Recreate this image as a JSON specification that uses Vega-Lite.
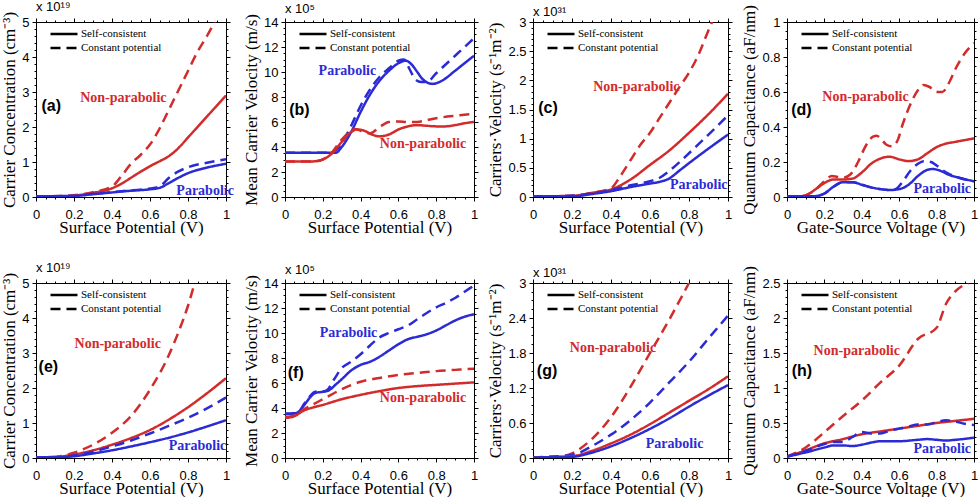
{
"$schema":"https://vega.github.io/schema/vega-lite/v6.json",
"background":"white",
"padding":{"left":0,"top":0,"right":0,"bottom":0},
"datasets":{
"curves":[
{"p":"a","m":"NP","s":"CP","x":0,"y":0.02},{"p":"a","m":"NP","s":"CP","x":0.15,"y":0.03},{"p":"a","m":"NP","s":"CP","x":0.2,"y":0.05},{"p":"a","m":"NP","s":"CP","x":0.3,"y":0.14},{"p":"a","m":"NP","s":"CP","x":0.4,"y":0.3},{"p":"a","m":"NP","s":"CP","x":0.45,"y":0.6},{"p":"a","m":"NP","s":"CP","x":0.5,"y":0.95},{"p":"a","m":"NP","s":"CP","x":0.55,"y":1.2},{"p":"a","m":"NP","s":"CP","x":0.6,"y":1.5},{"p":"a","m":"NP","s":"CP","x":0.65,"y":1.95},{"p":"a","m":"NP","s":"CP","x":0.7,"y":2.5},{"p":"a","m":"NP","s":"CP","x":0.75,"y":3.05},{"p":"a","m":"NP","s":"CP","x":0.8,"y":3.6},{"p":"a","m":"NP","s":"CP","x":0.85,"y":4.15},{"p":"a","m":"NP","s":"CP","x":0.9,"y":4.6},{"p":"a","m":"NP","s":"CP","x":0.94,"y":5.0},
{"p":"a","m":"NP","s":"SC","x":0,"y":0.02},{"p":"a","m":"NP","s":"SC","x":0.15,"y":0.02},{"p":"a","m":"NP","s":"SC","x":0.2,"y":0.04},{"p":"a","m":"NP","s":"SC","x":0.3,"y":0.12},{"p":"a","m":"NP","s":"SC","x":0.4,"y":0.25},{"p":"a","m":"NP","s":"SC","x":0.45,"y":0.38},{"p":"a","m":"NP","s":"SC","x":0.5,"y":0.55},{"p":"a","m":"NP","s":"SC","x":0.55,"y":0.72},{"p":"a","m":"NP","s":"SC","x":0.6,"y":0.88},{"p":"a","m":"NP","s":"SC","x":0.65,"y":1.02},{"p":"a","m":"NP","s":"SC","x":0.7,"y":1.17},{"p":"a","m":"NP","s":"SC","x":0.75,"y":1.4},{"p":"a","m":"NP","s":"SC","x":0.8,"y":1.7},{"p":"a","m":"NP","s":"SC","x":0.85,"y":2.0},{"p":"a","m":"NP","s":"SC","x":0.9,"y":2.3},{"p":"a","m":"NP","s":"SC","x":0.95,"y":2.6},{"p":"a","m":"NP","s":"SC","x":1,"y":2.9},
{"p":"a","m":"P","s":"CP","x":0,"y":0.02},{"p":"a","m":"P","s":"CP","x":0.2,"y":0.03},{"p":"a","m":"P","s":"CP","x":0.3,"y":0.09},{"p":"a","m":"P","s":"CP","x":0.4,"y":0.14},{"p":"a","m":"P","s":"CP","x":0.5,"y":0.19},{"p":"a","m":"P","s":"CP","x":0.6,"y":0.24},{"p":"a","m":"P","s":"CP","x":0.65,"y":0.3},{"p":"a","m":"P","s":"CP","x":0.7,"y":0.55},{"p":"a","m":"P","s":"CP","x":0.75,"y":0.73},{"p":"a","m":"P","s":"CP","x":0.8,"y":0.85},{"p":"a","m":"P","s":"CP","x":0.9,"y":0.98},{"p":"a","m":"P","s":"CP","x":1,"y":1.08},
{"p":"a","m":"P","s":"SC","x":0,"y":0.02},{"p":"a","m":"P","s":"SC","x":0.2,"y":0.03},{"p":"a","m":"P","s":"SC","x":0.3,"y":0.08},{"p":"a","m":"P","s":"SC","x":0.4,"y":0.13},{"p":"a","m":"P","s":"SC","x":0.5,"y":0.18},{"p":"a","m":"P","s":"SC","x":0.6,"y":0.22},{"p":"a","m":"P","s":"SC","x":0.65,"y":0.26},{"p":"a","m":"P","s":"SC","x":0.7,"y":0.4},{"p":"a","m":"P","s":"SC","x":0.75,"y":0.55},{"p":"a","m":"P","s":"SC","x":0.8,"y":0.68},{"p":"a","m":"P","s":"SC","x":0.9,"y":0.84},{"p":"a","m":"P","s":"SC","x":1,"y":0.95},
{"p":"b","m":"P","s":"CP","x":0,"y":3.55},{"p":"b","m":"P","s":"CP","x":0.25,"y":3.55},{"p":"b","m":"P","s":"CP","x":0.28,"y":3.9},{"p":"b","m":"P","s":"CP","x":0.3,"y":4.3},{"p":"b","m":"P","s":"CP","x":0.35,"y":5.7},{"p":"b","m":"P","s":"CP","x":0.4,"y":7.3},{"p":"b","m":"P","s":"CP","x":0.45,"y":8.6},{"p":"b","m":"P","s":"CP","x":0.5,"y":9.6},{"p":"b","m":"P","s":"CP","x":0.55,"y":10.3},{"p":"b","m":"P","s":"CP","x":0.6,"y":10.9},{"p":"b","m":"P","s":"CP","x":0.63,"y":11.0},{"p":"b","m":"P","s":"CP","x":0.66,"y":10.2},{"p":"b","m":"P","s":"CP","x":0.69,"y":9.4},{"p":"b","m":"P","s":"CP","x":0.72,"y":9.2},{"p":"b","m":"P","s":"CP","x":0.75,"y":9.2},{"p":"b","m":"P","s":"CP","x":0.8,"y":9.9},{"p":"b","m":"P","s":"CP","x":0.85,"y":10.6},{"p":"b","m":"P","s":"CP","x":0.9,"y":11.3},{"p":"b","m":"P","s":"CP","x":0.95,"y":12.0},{"p":"b","m":"P","s":"CP","x":1,"y":12.7},
{"p":"b","m":"P","s":"SC","x":0,"y":3.55},{"p":"b","m":"P","s":"SC","x":0.27,"y":3.55},{"p":"b","m":"P","s":"SC","x":0.3,"y":4.0},{"p":"b","m":"P","s":"SC","x":0.35,"y":5.2},{"p":"b","m":"P","s":"SC","x":0.4,"y":6.8},{"p":"b","m":"P","s":"SC","x":0.45,"y":8.2},{"p":"b","m":"P","s":"SC","x":0.5,"y":9.3},{"p":"b","m":"P","s":"SC","x":0.55,"y":10.1},{"p":"b","m":"P","s":"SC","x":0.6,"y":10.7},{"p":"b","m":"P","s":"SC","x":0.64,"y":10.9},{"p":"b","m":"P","s":"SC","x":0.67,"y":10.6},{"p":"b","m":"P","s":"SC","x":0.7,"y":10.0},{"p":"b","m":"P","s":"SC","x":0.73,"y":9.4},{"p":"b","m":"P","s":"SC","x":0.78,"y":9.05},{"p":"b","m":"P","s":"SC","x":0.83,"y":9.3},{"p":"b","m":"P","s":"SC","x":0.9,"y":10.1},{"p":"b","m":"P","s":"SC","x":0.95,"y":10.7},{"p":"b","m":"P","s":"SC","x":1,"y":11.3},
{"p":"b","m":"NP","s":"SC","x":0,"y":2.85},{"p":"b","m":"NP","s":"SC","x":0.15,"y":2.85},{"p":"b","m":"NP","s":"SC","x":0.2,"y":3.0},{"p":"b","m":"NP","s":"SC","x":0.25,"y":3.5},{"p":"b","m":"NP","s":"SC","x":0.3,"y":4.4},{"p":"b","m":"NP","s":"SC","x":0.35,"y":5.2},{"p":"b","m":"NP","s":"SC","x":0.38,"y":5.4},{"p":"b","m":"NP","s":"SC","x":0.42,"y":5.3},{"p":"b","m":"NP","s":"SC","x":0.46,"y":5.0},{"p":"b","m":"NP","s":"SC","x":0.5,"y":4.85},{"p":"b","m":"NP","s":"SC","x":0.55,"y":5.0},{"p":"b","m":"NP","s":"SC","x":0.6,"y":5.4},{"p":"b","m":"NP","s":"SC","x":0.65,"y":5.65},{"p":"b","m":"NP","s":"SC","x":0.7,"y":5.75},{"p":"b","m":"NP","s":"SC","x":0.75,"y":5.7},{"p":"b","m":"NP","s":"SC","x":0.8,"y":5.65},{"p":"b","m":"NP","s":"SC","x":0.85,"y":5.65},{"p":"b","m":"NP","s":"SC","x":0.9,"y":5.75},{"p":"b","m":"NP","s":"SC","x":0.95,"y":5.9},{"p":"b","m":"NP","s":"SC","x":1,"y":6.0},
{"p":"b","m":"NP","s":"CP","x":0,"y":2.85},{"p":"b","m":"NP","s":"CP","x":0.15,"y":2.85},{"p":"b","m":"NP","s":"CP","x":0.2,"y":3.0},{"p":"b","m":"NP","s":"CP","x":0.25,"y":3.6},{"p":"b","m":"NP","s":"CP","x":0.3,"y":4.6},{"p":"b","m":"NP","s":"CP","x":0.35,"y":5.3},{"p":"b","m":"NP","s":"CP","x":0.37,"y":5.45},{"p":"b","m":"NP","s":"CP","x":0.4,"y":5.3},{"p":"b","m":"NP","s":"CP","x":0.45,"y":5.1},{"p":"b","m":"NP","s":"CP","x":0.5,"y":5.6},{"p":"b","m":"NP","s":"CP","x":0.55,"y":6.0},{"p":"b","m":"NP","s":"CP","x":0.6,"y":6.05},{"p":"b","m":"NP","s":"CP","x":0.65,"y":6.0},{"p":"b","m":"NP","s":"CP","x":0.7,"y":6.0},{"p":"b","m":"NP","s":"CP","x":0.75,"y":6.15},{"p":"b","m":"NP","s":"CP","x":0.8,"y":6.3},{"p":"b","m":"NP","s":"CP","x":0.9,"y":6.5},{"p":"b","m":"NP","s":"CP","x":1,"y":6.65},
{"p":"c","m":"NP","s":"CP","x":0,"y":0.01},{"p":"c","m":"NP","s":"CP","x":0.2,"y":0.02},{"p":"c","m":"NP","s":"CP","x":0.3,"y":0.07},{"p":"c","m":"NP","s":"CP","x":0.4,"y":0.15},{"p":"c","m":"NP","s":"CP","x":0.45,"y":0.37},{"p":"c","m":"NP","s":"CP","x":0.5,"y":0.63},{"p":"c","m":"NP","s":"CP","x":0.55,"y":0.89},{"p":"c","m":"NP","s":"CP","x":0.6,"y":1.1},{"p":"c","m":"NP","s":"CP","x":0.65,"y":1.36},{"p":"c","m":"NP","s":"CP","x":0.7,"y":1.62},{"p":"c","m":"NP","s":"CP","x":0.75,"y":1.88},{"p":"c","m":"NP","s":"CP","x":0.8,"y":2.13},{"p":"c","m":"NP","s":"CP","x":0.85,"y":2.45},{"p":"c","m":"NP","s":"CP","x":0.9,"y":2.86},{"p":"c","m":"NP","s":"CP","x":0.918,"y":3.0},
{"p":"c","m":"NP","s":"SC","x":0,"y":0.01},{"p":"c","m":"NP","s":"SC","x":0.2,"y":0.02},{"p":"c","m":"NP","s":"SC","x":0.3,"y":0.07},{"p":"c","m":"NP","s":"SC","x":0.4,"y":0.13},{"p":"c","m":"NP","s":"SC","x":0.5,"y":0.3},{"p":"c","m":"NP","s":"SC","x":0.6,"y":0.55},{"p":"c","m":"NP","s":"SC","x":0.7,"y":0.8},{"p":"c","m":"NP","s":"SC","x":0.8,"y":1.1},{"p":"c","m":"NP","s":"SC","x":0.9,"y":1.42},{"p":"c","m":"NP","s":"SC","x":1,"y":1.77},
{"p":"c","m":"P","s":"CP","x":0,"y":0.01},{"p":"c","m":"P","s":"CP","x":0.2,"y":0.02},{"p":"c","m":"P","s":"CP","x":0.3,"y":0.06},{"p":"c","m":"P","s":"CP","x":0.4,"y":0.12},{"p":"c","m":"P","s":"CP","x":0.5,"y":0.2},{"p":"c","m":"P","s":"CP","x":0.6,"y":0.27},{"p":"c","m":"P","s":"CP","x":0.65,"y":0.33},{"p":"c","m":"P","s":"CP","x":0.7,"y":0.45},{"p":"c","m":"P","s":"CP","x":0.8,"y":0.75},{"p":"c","m":"P","s":"CP","x":0.9,"y":1.07},{"p":"c","m":"P","s":"CP","x":1,"y":1.4},
{"p":"c","m":"P","s":"SC","x":0,"y":0.01},{"p":"c","m":"P","s":"SC","x":0.2,"y":0.01},{"p":"c","m":"P","s":"SC","x":0.3,"y":0.05},{"p":"c","m":"P","s":"SC","x":0.4,"y":0.1},{"p":"c","m":"P","s":"SC","x":0.5,"y":0.17},{"p":"c","m":"P","s":"SC","x":0.6,"y":0.23},{"p":"c","m":"P","s":"SC","x":0.65,"y":0.26},{"p":"c","m":"P","s":"SC","x":0.7,"y":0.32},{"p":"c","m":"P","s":"SC","x":0.75,"y":0.45},{"p":"c","m":"P","s":"SC","x":0.8,"y":0.58},{"p":"c","m":"P","s":"SC","x":0.9,"y":0.83},{"p":"c","m":"P","s":"SC","x":1,"y":1.07},
{"p":"d","m":"NP","s":"CP","x":0,"y":0.005},{"p":"d","m":"NP","s":"CP","x":0.08,"y":0.005},{"p":"d","m":"NP","s":"CP","x":0.12,"y":0.02},{"p":"d","m":"NP","s":"CP","x":0.16,"y":0.05},{"p":"d","m":"NP","s":"CP","x":0.2,"y":0.09},{"p":"d","m":"NP","s":"CP","x":0.24,"y":0.12},{"p":"d","m":"NP","s":"CP","x":0.27,"y":0.115},{"p":"d","m":"NP","s":"CP","x":0.3,"y":0.11},{"p":"d","m":"NP","s":"CP","x":0.34,"y":0.13},{"p":"d","m":"NP","s":"CP","x":0.38,"y":0.2},{"p":"d","m":"NP","s":"CP","x":0.42,"y":0.29},{"p":"d","m":"NP","s":"CP","x":0.46,"y":0.345},{"p":"d","m":"NP","s":"CP","x":0.48,"y":0.35},{"p":"d","m":"NP","s":"CP","x":0.5,"y":0.335},{"p":"d","m":"NP","s":"CP","x":0.53,"y":0.3},{"p":"d","m":"NP","s":"CP","x":0.56,"y":0.29},{"p":"d","m":"NP","s":"CP","x":0.59,"y":0.32},{"p":"d","m":"NP","s":"CP","x":0.62,"y":0.42},{"p":"d","m":"NP","s":"CP","x":0.66,"y":0.53},{"p":"d","m":"NP","s":"CP","x":0.7,"y":0.61},{"p":"d","m":"NP","s":"CP","x":0.73,"y":0.64},{"p":"d","m":"NP","s":"CP","x":0.76,"y":0.63},{"p":"d","m":"NP","s":"CP","x":0.8,"y":0.6},{"p":"d","m":"NP","s":"CP","x":0.83,"y":0.6},{"p":"d","m":"NP","s":"CP","x":0.87,"y":0.66},{"p":"d","m":"NP","s":"CP","x":0.9,"y":0.73},{"p":"d","m":"NP","s":"CP","x":0.95,"y":0.82},{"p":"d","m":"NP","s":"CP","x":1,"y":0.88},
{"p":"d","m":"NP","s":"SC","x":0,"y":0.005},{"p":"d","m":"NP","s":"SC","x":0.08,"y":0.005},{"p":"d","m":"NP","s":"SC","x":0.12,"y":0.02},{"p":"d","m":"NP","s":"SC","x":0.16,"y":0.05},{"p":"d","m":"NP","s":"SC","x":0.2,"y":0.08},{"p":"d","m":"NP","s":"SC","x":0.25,"y":0.1},{"p":"d","m":"NP","s":"SC","x":0.3,"y":0.1},{"p":"d","m":"NP","s":"SC","x":0.35,"y":0.105},{"p":"d","m":"NP","s":"SC","x":0.4,"y":0.14},{"p":"d","m":"NP","s":"SC","x":0.45,"y":0.19},{"p":"d","m":"NP","s":"SC","x":0.5,"y":0.22},{"p":"d","m":"NP","s":"SC","x":0.55,"y":0.23},{"p":"d","m":"NP","s":"SC","x":0.6,"y":0.215},{"p":"d","m":"NP","s":"SC","x":0.65,"y":0.205},{"p":"d","m":"NP","s":"SC","x":0.7,"y":0.215},{"p":"d","m":"NP","s":"SC","x":0.75,"y":0.25},{"p":"d","m":"NP","s":"SC","x":0.8,"y":0.285},{"p":"d","m":"NP","s":"SC","x":0.85,"y":0.305},{"p":"d","m":"NP","s":"SC","x":0.9,"y":0.315},{"p":"d","m":"NP","s":"SC","x":0.95,"y":0.325},{"p":"d","m":"NP","s":"SC","x":1,"y":0.335},
{"p":"d","m":"P","s":"SC","x":0,"y":0.005},{"p":"d","m":"P","s":"SC","x":0.15,"y":0.005},{"p":"d","m":"P","s":"SC","x":0.2,"y":0.02},{"p":"d","m":"P","s":"SC","x":0.25,"y":0.06},{"p":"d","m":"P","s":"SC","x":0.3,"y":0.085},{"p":"d","m":"P","s":"SC","x":0.35,"y":0.085},{"p":"d","m":"P","s":"SC","x":0.4,"y":0.07},{"p":"d","m":"P","s":"SC","x":0.45,"y":0.055},{"p":"d","m":"P","s":"SC","x":0.5,"y":0.045},{"p":"d","m":"P","s":"SC","x":0.55,"y":0.04},{"p":"d","m":"P","s":"SC","x":0.6,"y":0.045},{"p":"d","m":"P","s":"SC","x":0.65,"y":0.07},{"p":"d","m":"P","s":"SC","x":0.7,"y":0.12},{"p":"d","m":"P","s":"SC","x":0.75,"y":0.155},{"p":"d","m":"P","s":"SC","x":0.78,"y":0.16},{"p":"d","m":"P","s":"SC","x":0.82,"y":0.15},{"p":"d","m":"P","s":"SC","x":0.87,"y":0.125},{"p":"d","m":"P","s":"SC","x":0.92,"y":0.11},{"p":"d","m":"P","s":"SC","x":1,"y":0.09},
{"p":"d","m":"P","s":"CP","x":0,"y":0.005},{"p":"d","m":"P","s":"CP","x":0.15,"y":0.005},{"p":"d","m":"P","s":"CP","x":0.2,"y":0.02},{"p":"d","m":"P","s":"CP","x":0.25,"y":0.06},{"p":"d","m":"P","s":"CP","x":0.3,"y":0.085},{"p":"d","m":"P","s":"CP","x":0.35,"y":0.085},{"p":"d","m":"P","s":"CP","x":0.4,"y":0.07},{"p":"d","m":"P","s":"CP","x":0.45,"y":0.055},{"p":"d","m":"P","s":"CP","x":0.5,"y":0.045},{"p":"d","m":"P","s":"CP","x":0.55,"y":0.04},{"p":"d","m":"P","s":"CP","x":0.58,"y":0.045},{"p":"d","m":"P","s":"CP","x":0.62,"y":0.09},{"p":"d","m":"P","s":"CP","x":0.66,"y":0.15},{"p":"d","m":"P","s":"CP","x":0.7,"y":0.19},{"p":"d","m":"P","s":"CP","x":0.73,"y":0.205},{"p":"d","m":"P","s":"CP","x":0.77,"y":0.2},{"p":"d","m":"P","s":"CP","x":0.8,"y":0.18},{"p":"d","m":"P","s":"CP","x":0.83,"y":0.155},{"p":"d","m":"P","s":"CP","x":0.86,"y":0.135},{"p":"d","m":"P","s":"CP","x":0.92,"y":0.11},{"p":"d","m":"P","s":"CP","x":1,"y":0.09},
{"p":"e","m":"NP","s":"CP","x":0,"y":0.02},{"p":"e","m":"NP","s":"CP","x":0.1,"y":0.03},{"p":"e","m":"NP","s":"CP","x":0.2,"y":0.15},{"p":"e","m":"NP","s":"CP","x":0.3,"y":0.38},{"p":"e","m":"NP","s":"CP","x":0.4,"y":0.72},{"p":"e","m":"NP","s":"CP","x":0.5,"y":1.2},{"p":"e","m":"NP","s":"CP","x":0.6,"y":1.95},{"p":"e","m":"NP","s":"CP","x":0.7,"y":2.95},{"p":"e","m":"NP","s":"CP","x":0.75,"y":3.6},{"p":"e","m":"NP","s":"CP","x":0.8,"y":4.35},{"p":"e","m":"NP","s":"CP","x":0.835,"y":5.0},
{"p":"e","m":"NP","s":"SC","x":0,"y":0.02},{"p":"e","m":"NP","s":"SC","x":0.1,"y":0.03},{"p":"e","m":"NP","s":"SC","x":0.2,"y":0.1},{"p":"e","m":"NP","s":"SC","x":0.3,"y":0.22},{"p":"e","m":"NP","s":"SC","x":0.4,"y":0.38},{"p":"e","m":"NP","s":"SC","x":0.5,"y":0.57},{"p":"e","m":"NP","s":"SC","x":0.6,"y":0.8},{"p":"e","m":"NP","s":"SC","x":0.7,"y":1.1},{"p":"e","m":"NP","s":"SC","x":0.8,"y":1.45},{"p":"e","m":"NP","s":"SC","x":0.9,"y":1.85},{"p":"e","m":"NP","s":"SC","x":1,"y":2.28},
{"p":"e","m":"P","s":"CP","x":0,"y":0.02},{"p":"e","m":"P","s":"CP","x":0.1,"y":0.02},{"p":"e","m":"P","s":"CP","x":0.2,"y":0.07},{"p":"e","m":"P","s":"CP","x":0.3,"y":0.18},{"p":"e","m":"P","s":"CP","x":0.4,"y":0.33},{"p":"e","m":"P","s":"CP","x":0.5,"y":0.5},{"p":"e","m":"P","s":"CP","x":0.6,"y":0.7},{"p":"e","m":"P","s":"CP","x":0.7,"y":0.92},{"p":"e","m":"P","s":"CP","x":0.8,"y":1.15},{"p":"e","m":"P","s":"CP","x":0.9,"y":1.42},{"p":"e","m":"P","s":"CP","x":1,"y":1.73},
{"p":"e","m":"P","s":"SC","x":0,"y":0.02},{"p":"e","m":"P","s":"SC","x":0.1,"y":0.02},{"p":"e","m":"P","s":"SC","x":0.2,"y":0.05},{"p":"e","m":"P","s":"SC","x":0.3,"y":0.13},{"p":"e","m":"P","s":"SC","x":0.4,"y":0.22},{"p":"e","m":"P","s":"SC","x":0.5,"y":0.33},{"p":"e","m":"P","s":"SC","x":0.6,"y":0.45},{"p":"e","m":"P","s":"SC","x":0.7,"y":0.58},{"p":"e","m":"P","s":"SC","x":0.8,"y":0.73},{"p":"e","m":"P","s":"SC","x":0.9,"y":0.9},{"p":"e","m":"P","s":"SC","x":1,"y":1.08},
{"p":"f","m":"P","s":"CP","x":0,"y":3.5},{"p":"f","m":"P","s":"CP","x":0.05,"y":3.55},{"p":"f","m":"P","s":"CP","x":0.08,"y":3.8},{"p":"f","m":"P","s":"CP","x":0.1,"y":4.3},{"p":"f","m":"P","s":"CP","x":0.13,"y":4.9},{"p":"f","m":"P","s":"CP","x":0.16,"y":5.3},{"p":"f","m":"P","s":"CP","x":0.19,"y":5.3},{"p":"f","m":"P","s":"CP","x":0.22,"y":5.4},{"p":"f","m":"P","s":"CP","x":0.26,"y":6.3},{"p":"f","m":"P","s":"CP","x":0.3,"y":7.2},{"p":"f","m":"P","s":"CP","x":0.35,"y":7.7},{"p":"f","m":"P","s":"CP","x":0.4,"y":8.3},{"p":"f","m":"P","s":"CP","x":0.45,"y":9.0},{"p":"f","m":"P","s":"CP","x":0.5,"y":9.65},{"p":"f","m":"P","s":"CP","x":0.55,"y":10.0},{"p":"f","m":"P","s":"CP","x":0.6,"y":10.3},{"p":"f","m":"P","s":"CP","x":0.65,"y":10.6},{"p":"f","m":"P","s":"CP","x":0.7,"y":11.1},{"p":"f","m":"P","s":"CP","x":0.75,"y":11.6},{"p":"f","m":"P","s":"CP","x":0.8,"y":12.05},{"p":"f","m":"P","s":"CP","x":0.85,"y":12.4},{"p":"f","m":"P","s":"CP","x":0.9,"y":12.8},{"p":"f","m":"P","s":"CP","x":0.95,"y":13.3},{"p":"f","m":"P","s":"CP","x":1,"y":13.8},
{"p":"f","m":"P","s":"SC","x":0,"y":3.55},{"p":"f","m":"P","s":"SC","x":0.06,"y":3.6},{"p":"f","m":"P","s":"SC","x":0.1,"y":4.2},{"p":"f","m":"P","s":"SC","x":0.13,"y":4.8},{"p":"f","m":"P","s":"SC","x":0.16,"y":5.2},{"p":"f","m":"P","s":"SC","x":0.2,"y":5.3},{"p":"f","m":"P","s":"SC","x":0.23,"y":5.4},{"p":"f","m":"P","s":"SC","x":0.27,"y":5.9},{"p":"f","m":"P","s":"SC","x":0.3,"y":6.3},{"p":"f","m":"P","s":"SC","x":0.35,"y":7.0},{"p":"f","m":"P","s":"SC","x":0.4,"y":7.45},{"p":"f","m":"P","s":"SC","x":0.45,"y":7.7},{"p":"f","m":"P","s":"SC","x":0.5,"y":8.1},{"p":"f","m":"P","s":"SC","x":0.55,"y":8.6},{"p":"f","m":"P","s":"SC","x":0.6,"y":9.1},{"p":"f","m":"P","s":"SC","x":0.65,"y":9.5},{"p":"f","m":"P","s":"SC","x":0.7,"y":9.7},{"p":"f","m":"P","s":"SC","x":0.75,"y":9.9},{"p":"f","m":"P","s":"SC","x":0.8,"y":10.2},{"p":"f","m":"P","s":"SC","x":0.85,"y":10.6},{"p":"f","m":"P","s":"SC","x":0.9,"y":11.0},{"p":"f","m":"P","s":"SC","x":0.95,"y":11.3},{"p":"f","m":"P","s":"SC","x":1,"y":11.5},
{"p":"f","m":"NP","s":"CP","x":0,"y":3.25},{"p":"f","m":"NP","s":"CP","x":0.05,"y":3.4},{"p":"f","m":"NP","s":"CP","x":0.1,"y":3.9},{"p":"f","m":"NP","s":"CP","x":0.15,"y":4.3},{"p":"f","m":"NP","s":"CP","x":0.2,"y":4.7},{"p":"f","m":"NP","s":"CP","x":0.3,"y":5.5},{"p":"f","m":"NP","s":"CP","x":0.4,"y":6.1},{"p":"f","m":"NP","s":"CP","x":0.5,"y":6.4},{"p":"f","m":"NP","s":"CP","x":0.6,"y":6.65},{"p":"f","m":"NP","s":"CP","x":0.7,"y":6.8},{"p":"f","m":"NP","s":"CP","x":0.8,"y":6.95},{"p":"f","m":"NP","s":"CP","x":0.9,"y":7.05},{"p":"f","m":"NP","s":"CP","x":1,"y":7.15},
{"p":"f","m":"NP","s":"SC","x":0,"y":3.2},{"p":"f","m":"NP","s":"SC","x":0.05,"y":3.35},{"p":"f","m":"NP","s":"SC","x":0.1,"y":3.8},{"p":"f","m":"NP","s":"SC","x":0.15,"y":4.05},{"p":"f","m":"NP","s":"SC","x":0.2,"y":4.25},{"p":"f","m":"NP","s":"SC","x":0.3,"y":4.7},{"p":"f","m":"NP","s":"SC","x":0.4,"y":5.05},{"p":"f","m":"NP","s":"SC","x":0.5,"y":5.35},{"p":"f","m":"NP","s":"SC","x":0.6,"y":5.6},{"p":"f","m":"NP","s":"SC","x":0.7,"y":5.75},{"p":"f","m":"NP","s":"SC","x":0.8,"y":5.85},{"p":"f","m":"NP","s":"SC","x":0.9,"y":5.95},{"p":"f","m":"NP","s":"SC","x":1,"y":6.05},
{"p":"g","m":"NP","s":"CP","x":0,"y":0.01},{"p":"g","m":"NP","s":"CP","x":0.15,"y":0.03},{"p":"g","m":"NP","s":"CP","x":0.2,"y":0.08},{"p":"g","m":"NP","s":"CP","x":0.3,"y":0.32},{"p":"g","m":"NP","s":"CP","x":0.4,"y":0.7},{"p":"g","m":"NP","s":"CP","x":0.5,"y":1.22},{"p":"g","m":"NP","s":"CP","x":0.6,"y":1.8},{"p":"g","m":"NP","s":"CP","x":0.7,"y":2.38},{"p":"g","m":"NP","s":"CP","x":0.8,"y":3.0},
{"p":"g","m":"P","s":"CP","x":0,"y":0.01},{"p":"g","m":"P","s":"CP","x":0.2,"y":0.05},{"p":"g","m":"P","s":"CP","x":0.3,"y":0.2},{"p":"g","m":"P","s":"CP","x":0.4,"y":0.4},{"p":"g","m":"P","s":"CP","x":0.5,"y":0.65},{"p":"g","m":"P","s":"CP","x":0.6,"y":0.95},{"p":"g","m":"P","s":"CP","x":0.7,"y":1.3},{"p":"g","m":"P","s":"CP","x":0.8,"y":1.65},{"p":"g","m":"P","s":"CP","x":0.9,"y":2.05},{"p":"g","m":"P","s":"CP","x":1,"y":2.44},
{"p":"g","m":"NP","s":"SC","x":0,"y":0.01},{"p":"g","m":"NP","s":"SC","x":0.2,"y":0.03},{"p":"g","m":"NP","s":"SC","x":0.3,"y":0.12},{"p":"g","m":"NP","s":"SC","x":0.4,"y":0.25},{"p":"g","m":"NP","s":"SC","x":0.5,"y":0.4},{"p":"g","m":"NP","s":"SC","x":0.6,"y":0.58},{"p":"g","m":"NP","s":"SC","x":0.7,"y":0.78},{"p":"g","m":"NP","s":"SC","x":0.8,"y":0.98},{"p":"g","m":"NP","s":"SC","x":0.9,"y":1.18},{"p":"g","m":"NP","s":"SC","x":1,"y":1.4},
{"p":"g","m":"P","s":"SC","x":0,"y":0.01},{"p":"g","m":"P","s":"SC","x":0.2,"y":0.02},{"p":"g","m":"P","s":"SC","x":0.3,"y":0.09},{"p":"g","m":"P","s":"SC","x":0.4,"y":0.2},{"p":"g","m":"P","s":"SC","x":0.5,"y":0.34},{"p":"g","m":"P","s":"SC","x":0.6,"y":0.5},{"p":"g","m":"P","s":"SC","x":0.7,"y":0.68},{"p":"g","m":"P","s":"SC","x":0.8,"y":0.88},{"p":"g","m":"P","s":"SC","x":0.9,"y":1.07},{"p":"g","m":"P","s":"SC","x":1,"y":1.25},
{"p":"h","m":"NP","s":"CP","x":0,"y":0.02},{"p":"h","m":"NP","s":"CP","x":0.1,"y":0.15},{"p":"h","m":"NP","s":"CP","x":0.2,"y":0.37},{"p":"h","m":"NP","s":"CP","x":0.3,"y":0.6},{"p":"h","m":"NP","s":"CP","x":0.4,"y":0.82},{"p":"h","m":"NP","s":"CP","x":0.5,"y":1.08},{"p":"h","m":"NP","s":"CP","x":0.6,"y":1.32},{"p":"h","m":"NP","s":"CP","x":0.7,"y":1.7},{"p":"h","m":"NP","s":"CP","x":0.8,"y":1.86},{"p":"h","m":"NP","s":"CP","x":0.85,"y":2.2},{"p":"h","m":"NP","s":"CP","x":0.9,"y":2.38},{"p":"h","m":"NP","s":"CP","x":0.97,"y":2.5},
{"p":"h","m":"NP","s":"SC","x":0,"y":0.02},{"p":"h","m":"NP","s":"SC","x":0.1,"y":0.11},{"p":"h","m":"NP","s":"SC","x":0.2,"y":0.21},{"p":"h","m":"NP","s":"SC","x":0.3,"y":0.27},{"p":"h","m":"NP","s":"SC","x":0.4,"y":0.34},{"p":"h","m":"NP","s":"SC","x":0.5,"y":0.38},{"p":"h","m":"NP","s":"SC","x":0.6,"y":0.42},{"p":"h","m":"NP","s":"SC","x":0.7,"y":0.46},{"p":"h","m":"NP","s":"SC","x":0.8,"y":0.5},{"p":"h","m":"NP","s":"SC","x":0.9,"y":0.53},{"p":"h","m":"NP","s":"SC","x":1,"y":0.56},
{"p":"h","m":"P","s":"CP","x":0,"y":0.02},{"p":"h","m":"P","s":"CP","x":0.1,"y":0.1},{"p":"h","m":"P","s":"CP","x":0.2,"y":0.2},{"p":"h","m":"P","s":"CP","x":0.25,"y":0.23},{"p":"h","m":"P","s":"CP","x":0.3,"y":0.23},{"p":"h","m":"P","s":"CP","x":0.35,"y":0.3},{"p":"h","m":"P","s":"CP","x":0.4,"y":0.37},{"p":"h","m":"P","s":"CP","x":0.45,"y":0.35},{"p":"h","m":"P","s":"CP","x":0.5,"y":0.35},{"p":"h","m":"P","s":"CP","x":0.55,"y":0.39},{"p":"h","m":"P","s":"CP","x":0.6,"y":0.42},{"p":"h","m":"P","s":"CP","x":0.65,"y":0.45},{"p":"h","m":"P","s":"CP","x":0.7,"y":0.48},{"p":"h","m":"P","s":"CP","x":0.75,"y":0.48},{"p":"h","m":"P","s":"CP","x":0.8,"y":0.51},{"p":"h","m":"P","s":"CP","x":0.85,"y":0.54},{"p":"h","m":"P","s":"CP","x":0.9,"y":0.52},{"p":"h","m":"P","s":"CP","x":0.95,"y":0.49},{"p":"h","m":"P","s":"CP","x":1,"y":0.47},
{"p":"h","m":"P","s":"SC","x":0,"y":0.02},{"p":"h","m":"P","s":"SC","x":0.1,"y":0.08},{"p":"h","m":"P","s":"SC","x":0.2,"y":0.15},{"p":"h","m":"P","s":"SC","x":0.25,"y":0.18},{"p":"h","m":"P","s":"SC","x":0.3,"y":0.18},{"p":"h","m":"P","s":"SC","x":0.35,"y":0.17},{"p":"h","m":"P","s":"SC","x":0.4,"y":0.19},{"p":"h","m":"P","s":"SC","x":0.45,"y":0.22},{"p":"h","m":"P","s":"SC","x":0.5,"y":0.24},{"p":"h","m":"P","s":"SC","x":0.6,"y":0.24},{"p":"h","m":"P","s":"SC","x":0.7,"y":0.26},{"p":"h","m":"P","s":"SC","x":0.75,"y":0.27},{"p":"h","m":"P","s":"SC","x":0.8,"y":0.26},{"p":"h","m":"P","s":"SC","x":0.85,"y":0.25},{"p":"h","m":"P","s":"SC","x":0.9,"y":0.26},{"p":"h","m":"P","s":"SC","x":1,"y":0.29}
],
"labels":[
{"p":"a","m":"NP","t":"Non-parabolic","x":0.46,"y":2.84},{"p":"a","m":"P","t":"Parabolic","x":0.89,"y":0.17},
{"p":"b","m":"P","t":"Parabolic","x":0.33,"y":10.1},{"p":"b","m":"NP","t":"Non-parabolic","x":0.73,"y":4.27},
{"p":"c","m":"NP","t":"Non-parabolic","x":0.53,"y":1.89},{"p":"c","m":"P","t":"Parabolic","x":0.85,"y":0.21},
{"p":"d","m":"NP","t":"Non-parabolic","x":0.42,"y":0.57},{"p":"d","m":"P","t":"Parabolic","x":0.83,"y":0.048},
{"p":"e","m":"NP","t":"Non-parabolic","x":0.43,"y":3.27},{"p":"e","m":"P","t":"Parabolic","x":0.85,"y":0.33},
{"p":"f","m":"P","t":"Parabolic","x":0.336,"y":10.0},{"p":"f","m":"NP","t":"Non-parabolic","x":0.73,"y":4.77},
{"p":"g","m":"NP","t":"Non-parabolic","x":0.41,"y":1.89},{"p":"g","m":"P","t":"Parabolic","x":0.726,"y":0.24},
{"p":"h","m":"NP","t":"Non-parabolic","x":0.373,"y":1.53},{"p":"h","m":"P","t":"Parabolic","x":0.83,"y":0.13}
],
"panels":[
{"p":"a","t":"(a)","x":0.08,"y":2.6},{"p":"b","t":"(b)","x":0.076,"y":7.0},{"p":"c","t":"(c)","x":0.077,"y":1.52},{"p":"d","t":"(d)","x":0.077,"y":0.497},
{"p":"e","t":"(e)","x":0.065,"y":2.6},{"p":"f","t":"(f)","x":0.057,"y":6.8},{"p":"g","t":"(g)","x":0.072,"y":1.5},{"p":"h","t":"(h)","x":0.08,"y":1.24}
]
},
"vconcat":[
{"hconcat":[
{"width":190,"height":175,"title":"x 10¹⁹",
"layer":[
{"data":{"name":"curves"},"transform":[{"filter":"datum.p=='a'"}],"mark":{"type":"line","strokeWidth":2.5,"interpolate":"monotone","clip":true},
"encoding":{"x":{"field":"x","type":"quantitative","scale":{"domain":[0,1],"nice":false},"axis":{"title":"Surface Potential (V)","values":[0,0.05,0.1,0.15,0.2,0.25,0.3,0.35,0.4,0.45,0.5,0.55,0.6,0.65,0.7,0.75,0.8,0.85,0.9,0.95,1],"labelExpr":"abs(datum.value*5-round(datum.value*5))<0.001 ? datum.label : ''","tickSize":{"condition":{"test":"abs(datum.value*5-round(datum.value*5))<0.001","value":4},"value":2}}},
"y":{"field":"y","type":"quantitative","scale":{"domain":[0,5],"nice":false},"axis":{"title":"Carrier Concentration (cm⁻³)","values":[0,0.2,0.4,0.6,0.8,1,1.2,1.4,1.6,1.8,2,2.2,2.4,2.6,2.8,3,3.2,3.4,3.6,3.8,4,4.2,4.4,4.6,4.8,5],"labelExpr":"abs(datum.value-round(datum.value))<0.001 ? datum.label : ''","tickSize":{"condition":{"test":"abs(datum.value-round(datum.value))<0.001","value":4},"value":2}}},
"color":{"field":"m","type":"nominal","scale":{"domain":["NP","P"],"range":["#d22b2b","#2b2bd6"]},"legend":null},
"strokeDash":{"field":"s","type":"nominal","scale":{"domain":["SC","CP"],"range":[[1,0],[10,6]]},"legend":{"title":null,"orient":"none","legendX":22,"legendY":6,"labelExpr":"datum.label=='SC' ? 'Self-consistent' : 'Constant potential'"}}}},
{"data":{"name":"labels"},"transform":[{"filter":"datum.p=='a'"}],"mark":{"type":"text","font":"Liberation Serif","fontWeight":"bold","fontSize":14},
"encoding":{"x":{"field":"x","type":"quantitative","axis":null},"y":{"field":"y","type":"quantitative","axis":null},"text":{"field":"t"},"color":{"field":"m","type":"nominal","legend":null}}},
{"data":{"name":"panels"},"transform":[{"filter":"datum.p=='a'"}],"mark":{"type":"text","font":"Liberation Sans","fontWeight":"bold","fontSize":16},
"encoding":{"x":{"field":"x","type":"quantitative","axis":{"orient":"top","labels":false,"title":null,"domain":false,"values":[0,0.05,0.1,0.15,0.2,0.25,0.3,0.35,0.4,0.45,0.5,0.55,0.6,0.65,0.7,0.75,0.8,0.85,0.9,0.95,1],"tickSize":{"condition":{"test":"abs(datum.value*5-round(datum.value*5))<0.001","value":4},"value":2}}},
"y":{"field":"y","type":"quantitative","axis":{"orient":"right","labels":false,"title":null,"domain":false,"values":[0,0.2,0.4,0.6,0.8,1,1.2,1.4,1.6,1.8,2,2.2,2.4,2.6,2.8,3,3.2,3.4,3.6,3.8,4,4.2,4.4,4.6,4.8,5],"tickSize":{"condition":{"test":"abs(datum.value-round(datum.value))<0.001","value":4},"value":2}}},"text":{"field":"t"}}}
],
"resolve":{"axis":{"x":"independent","y":"independent"}}},
{"width":189,"height":175,"title":"x 10⁵",
"layer":[
{"data":{"name":"curves"},"transform":[{"filter":"datum.p=='b'"}],"mark":{"type":"line","strokeWidth":2.5,"interpolate":"monotone","clip":true},
"encoding":{"x":{"field":"x","type":"quantitative","scale":{"domain":[0,1],"nice":false},"axis":{"title":"Surface Potential (V)","values":[0,0.05,0.1,0.15,0.2,0.25,0.3,0.35,0.4,0.45,0.5,0.55,0.6,0.65,0.7,0.75,0.8,0.85,0.9,0.95,1],"labelExpr":"abs(datum.value*5-round(datum.value*5))<0.001 ? datum.label : ''","tickSize":{"condition":{"test":"abs(datum.value*5-round(datum.value*5))<0.001","value":4},"value":2}}},
"y":{"field":"y","type":"quantitative","scale":{"domain":[0,14],"nice":false},"axis":{"title":"Mean Carrier Velocity (m/s)","values":[0,0.5,1,1.5,2,2.5,3,3.5,4,4.5,5,5.5,6,6.5,7,7.5,8,8.5,9,9.5,10,10.5,11,11.5,12,12.5,13,13.5,14],"labelExpr":"abs(datum.value/2-round(datum.value/2))<0.001 ? datum.label : ''","tickSize":{"condition":{"test":"abs(datum.value/2-round(datum.value/2))<0.001","value":4},"value":2}}},
"color":{"field":"m","type":"nominal","scale":{"domain":["NP","P"],"range":["#d22b2b","#2b2bd6"]},"legend":null},
"strokeDash":{"field":"s","type":"nominal","scale":{"domain":["SC","CP"],"range":[[1,0],[10,6]]},"legend":{"title":null,"orient":"none","legendX":22,"legendY":6,"labelExpr":"datum.label=='SC' ? 'Self-consistent' : 'Constant potential'"}}}},
{"data":{"name":"labels"},"transform":[{"filter":"datum.p=='b'"}],"mark":{"type":"text","font":"Liberation Serif","fontWeight":"bold","fontSize":14},
"encoding":{"x":{"field":"x","type":"quantitative","axis":null},"y":{"field":"y","type":"quantitative","axis":null},"text":{"field":"t"},"color":{"field":"m","type":"nominal","legend":null}}},
{"data":{"name":"panels"},"transform":[{"filter":"datum.p=='b'"}],"mark":{"type":"text","font":"Liberation Sans","fontWeight":"bold","fontSize":16},
"encoding":{"x":{"field":"x","type":"quantitative","axis":{"orient":"top","labels":false,"title":null,"domain":false,"values":[0,0.05,0.1,0.15,0.2,0.25,0.3,0.35,0.4,0.45,0.5,0.55,0.6,0.65,0.7,0.75,0.8,0.85,0.9,0.95,1],"tickSize":{"condition":{"test":"abs(datum.value*5-round(datum.value*5))<0.001","value":4},"value":2}}},
"y":{"field":"y","type":"quantitative","axis":{"orient":"right","labels":false,"title":null,"domain":false,"values":[0,0.5,1,1.5,2,2.5,3,3.5,4,4.5,5,5.5,6,6.5,7,7.5,8,8.5,9,9.5,10,10.5,11,11.5,12,12.5,13,13.5,14],"tickSize":{"condition":{"test":"abs(datum.value/2-round(datum.value/2))<0.001","value":4},"value":2}}},"text":{"field":"t"}}}
],
"resolve":{"axis":{"x":"independent","y":"independent"}}},
{"width":195,"height":175,"title":"x 10³¹",
"layer":[
{"data":{"name":"curves"},"transform":[{"filter":"datum.p=='c'"}],"mark":{"type":"line","strokeWidth":2.5,"interpolate":"monotone","clip":true},
"encoding":{"x":{"field":"x","type":"quantitative","scale":{"domain":[0,1],"nice":false},"axis":{"title":"Surface Potential (V)","values":[0,0.05,0.1,0.15,0.2,0.25,0.3,0.35,0.4,0.45,0.5,0.55,0.6,0.65,0.7,0.75,0.8,0.85,0.9,0.95,1],"labelExpr":"abs(datum.value*5-round(datum.value*5))<0.001 ? datum.label : ''","tickSize":{"condition":{"test":"abs(datum.value*5-round(datum.value*5))<0.001","value":4},"value":2}}},
"y":{"field":"y","type":"quantitative","scale":{"domain":[0,3],"nice":false},"axis":{"title":"Carriers·Velocity (s⁻¹m⁻²)","values":[0,0.1,0.2,0.3,0.4,0.5,0.6,0.7,0.8,0.9,1,1.1,1.2,1.3,1.4,1.5,1.6,1.7,1.8,1.9,2,2.1,2.2,2.3,2.4,2.5,2.6,2.7,2.8,2.9,3],"labelExpr":"abs(datum.value*2-round(datum.value*2))<0.001 ? datum.label : ''","tickSize":{"condition":{"test":"abs(datum.value*2-round(datum.value*2))<0.001","value":4},"value":2}}},
"color":{"field":"m","type":"nominal","scale":{"domain":["NP","P"],"range":["#d22b2b","#2b2bd6"]},"legend":null},
"strokeDash":{"field":"s","type":"nominal","scale":{"domain":["SC","CP"],"range":[[1,0],[10,6]]},"legend":{"title":null,"orient":"none","legendX":22,"legendY":6,"labelExpr":"datum.label=='SC' ? 'Self-consistent' : 'Constant potential'"}}}},
{"data":{"name":"labels"},"transform":[{"filter":"datum.p=='c'"}],"mark":{"type":"text","font":"Liberation Serif","fontWeight":"bold","fontSize":14},
"encoding":{"x":{"field":"x","type":"quantitative","axis":null},"y":{"field":"y","type":"quantitative","axis":null},"text":{"field":"t"},"color":{"field":"m","type":"nominal","legend":null}}},
{"data":{"name":"panels"},"transform":[{"filter":"datum.p=='c'"}],"mark":{"type":"text","font":"Liberation Sans","fontWeight":"bold","fontSize":16},
"encoding":{"x":{"field":"x","type":"quantitative","axis":{"orient":"top","labels":false,"title":null,"domain":false,"values":[0,0.05,0.1,0.15,0.2,0.25,0.3,0.35,0.4,0.45,0.5,0.55,0.6,0.65,0.7,0.75,0.8,0.85,0.9,0.95,1],"tickSize":{"condition":{"test":"abs(datum.value*5-round(datum.value*5))<0.001","value":4},"value":2}}},
"y":{"field":"y","type":"quantitative","axis":{"orient":"right","labels":false,"title":null,"domain":false,"values":[0,0.1,0.2,0.3,0.4,0.5,0.6,0.7,0.8,0.9,1,1.1,1.2,1.3,1.4,1.5,1.6,1.7,1.8,1.9,2,2.1,2.2,2.3,2.4,2.5,2.6,2.7,2.8,2.9,3],"tickSize":{"condition":{"test":"abs(datum.value*2-round(datum.value*2))<0.001","value":4},"value":2}}},"text":{"field":"t"}}}
],
"resolve":{"axis":{"x":"independent","y":"independent"}}},
{"width":187,"height":175,
"layer":[
{"data":{"name":"curves"},"transform":[{"filter":"datum.p=='d'"}],"mark":{"type":"line","strokeWidth":2.5,"interpolate":"monotone","clip":true},
"encoding":{"x":{"field":"x","type":"quantitative","scale":{"domain":[0,1],"nice":false},"axis":{"title":"Gate-Source Voltage (V)","values":[0,0.05,0.1,0.15,0.2,0.25,0.3,0.35,0.4,0.45,0.5,0.55,0.6,0.65,0.7,0.75,0.8,0.85,0.9,0.95,1],"labelExpr":"abs(datum.value*5-round(datum.value*5))<0.001 ? datum.label : ''","tickSize":{"condition":{"test":"abs(datum.value*5-round(datum.value*5))<0.001","value":4},"value":2}}},
"y":{"field":"y","type":"quantitative","scale":{"domain":[0,1],"nice":false},"axis":{"title":"Quantum Capacitance (aF/nm)","values":[0,0.05,0.1,0.15,0.2,0.25,0.3,0.35,0.4,0.45,0.5,0.55,0.6,0.65,0.7,0.75,0.8,0.85,0.9,0.95,1],"labelExpr":"abs(datum.value*5-round(datum.value*5))<0.001 ? datum.label : ''","tickSize":{"condition":{"test":"abs(datum.value*5-round(datum.value*5))<0.001","value":4},"value":2}}},
"color":{"field":"m","type":"nominal","scale":{"domain":["NP","P"],"range":["#d22b2b","#2b2bd6"]},"legend":null},
"strokeDash":{"field":"s","type":"nominal","scale":{"domain":["SC","CP"],"range":[[1,0],[10,6]]},"legend":{"title":null,"orient":"none","legendX":22,"legendY":6,"labelExpr":"datum.label=='SC' ? 'Self-consistent' : 'Constant potential'"}}}},
{"data":{"name":"labels"},"transform":[{"filter":"datum.p=='d'"}],"mark":{"type":"text","font":"Liberation Serif","fontWeight":"bold","fontSize":14},
"encoding":{"x":{"field":"x","type":"quantitative","axis":null},"y":{"field":"y","type":"quantitative","axis":null},"text":{"field":"t"},"color":{"field":"m","type":"nominal","legend":null}}},
{"data":{"name":"panels"},"transform":[{"filter":"datum.p=='d'"}],"mark":{"type":"text","font":"Liberation Sans","fontWeight":"bold","fontSize":16},
"encoding":{"x":{"field":"x","type":"quantitative","axis":{"orient":"top","labels":false,"title":null,"domain":false,"values":[0,0.05,0.1,0.15,0.2,0.25,0.3,0.35,0.4,0.45,0.5,0.55,0.6,0.65,0.7,0.75,0.8,0.85,0.9,0.95,1],"tickSize":{"condition":{"test":"abs(datum.value*5-round(datum.value*5))<0.001","value":4},"value":2}}},
"y":{"field":"y","type":"quantitative","axis":{"orient":"right","labels":false,"title":null,"domain":false,"values":[0,0.05,0.1,0.15,0.2,0.25,0.3,0.35,0.4,0.45,0.5,0.55,0.6,0.65,0.7,0.75,0.8,0.85,0.9,0.95,1],"tickSize":{"condition":{"test":"abs(datum.value*5-round(datum.value*5))<0.001","value":4},"value":2}}},"text":{"field":"t"}}}
],
"resolve":{"axis":{"x":"independent","y":"independent"}}}
],"spacing":59,"bounds":"flush","resolve":{"scale":{"strokeDash":"independent"},"legend":{"strokeDash":"independent"}}},
{"hconcat":[
{"width":190,"height":175,"title":"x 10¹⁹",
"layer":[
{"data":{"name":"curves"},"transform":[{"filter":"datum.p=='e'"}],"mark":{"type":"line","strokeWidth":2.5,"interpolate":"monotone","clip":true},
"encoding":{"x":{"field":"x","type":"quantitative","scale":{"domain":[0,1],"nice":false},"axis":{"title":"Surface Potential (V)","values":[0,0.05,0.1,0.15,0.2,0.25,0.3,0.35,0.4,0.45,0.5,0.55,0.6,0.65,0.7,0.75,0.8,0.85,0.9,0.95,1],"labelExpr":"abs(datum.value*5-round(datum.value*5))<0.001 ? datum.label : ''","tickSize":{"condition":{"test":"abs(datum.value*5-round(datum.value*5))<0.001","value":4},"value":2}}},
"y":{"field":"y","type":"quantitative","scale":{"domain":[0,5],"nice":false},"axis":{"title":"Carrier Concentration (cm⁻³)","values":[0,0.2,0.4,0.6,0.8,1,1.2,1.4,1.6,1.8,2,2.2,2.4,2.6,2.8,3,3.2,3.4,3.6,3.8,4,4.2,4.4,4.6,4.8,5],"labelExpr":"abs(datum.value-round(datum.value))<0.001 ? datum.label : ''","tickSize":{"condition":{"test":"abs(datum.value-round(datum.value))<0.001","value":4},"value":2}}},
"color":{"field":"m","type":"nominal","scale":{"domain":["NP","P"],"range":["#d22b2b","#2b2bd6"]},"legend":null},
"strokeDash":{"field":"s","type":"nominal","scale":{"domain":["SC","CP"],"range":[[1,0],[10,6]]},"legend":{"title":null,"orient":"none","legendX":22,"legendY":6,"labelExpr":"datum.label=='SC' ? 'Self-consistent' : 'Constant potential'"}}}},
{"data":{"name":"labels"},"transform":[{"filter":"datum.p=='e'"}],"mark":{"type":"text","font":"Liberation Serif","fontWeight":"bold","fontSize":14},
"encoding":{"x":{"field":"x","type":"quantitative","axis":null},"y":{"field":"y","type":"quantitative","axis":null},"text":{"field":"t"},"color":{"field":"m","type":"nominal","legend":null}}},
{"data":{"name":"panels"},"transform":[{"filter":"datum.p=='e'"}],"mark":{"type":"text","font":"Liberation Sans","fontWeight":"bold","fontSize":16},
"encoding":{"x":{"field":"x","type":"quantitative","axis":{"orient":"top","labels":false,"title":null,"domain":false,"values":[0,0.05,0.1,0.15,0.2,0.25,0.3,0.35,0.4,0.45,0.5,0.55,0.6,0.65,0.7,0.75,0.8,0.85,0.9,0.95,1],"tickSize":{"condition":{"test":"abs(datum.value*5-round(datum.value*5))<0.001","value":4},"value":2}}},
"y":{"field":"y","type":"quantitative","axis":{"orient":"right","labels":false,"title":null,"domain":false,"values":[0,0.2,0.4,0.6,0.8,1,1.2,1.4,1.6,1.8,2,2.2,2.4,2.6,2.8,3,3.2,3.4,3.6,3.8,4,4.2,4.4,4.6,4.8,5],"tickSize":{"condition":{"test":"abs(datum.value-round(datum.value))<0.001","value":4},"value":2}}},"text":{"field":"t"}}}
],
"resolve":{"axis":{"x":"independent","y":"independent"}}},
{"width":189,"height":175,"title":"x 10⁵",
"layer":[
{"data":{"name":"curves"},"transform":[{"filter":"datum.p=='f'"}],"mark":{"type":"line","strokeWidth":2.5,"interpolate":"monotone","clip":true},
"encoding":{"x":{"field":"x","type":"quantitative","scale":{"domain":[0,1],"nice":false},"axis":{"title":"Surface Potential (V)","values":[0,0.05,0.1,0.15,0.2,0.25,0.3,0.35,0.4,0.45,0.5,0.55,0.6,0.65,0.7,0.75,0.8,0.85,0.9,0.95,1],"labelExpr":"abs(datum.value*5-round(datum.value*5))<0.001 ? datum.label : ''","tickSize":{"condition":{"test":"abs(datum.value*5-round(datum.value*5))<0.001","value":4},"value":2}}},
"y":{"field":"y","type":"quantitative","scale":{"domain":[0,14],"nice":false},"axis":{"title":"Mean Carrier Velocity (m/s)","values":[0,0.5,1,1.5,2,2.5,3,3.5,4,4.5,5,5.5,6,6.5,7,7.5,8,8.5,9,9.5,10,10.5,11,11.5,12,12.5,13,13.5,14],"labelExpr":"abs(datum.value/2-round(datum.value/2))<0.001 ? datum.label : ''","tickSize":{"condition":{"test":"abs(datum.value/2-round(datum.value/2))<0.001","value":4},"value":2}}},
"color":{"field":"m","type":"nominal","scale":{"domain":["NP","P"],"range":["#d22b2b","#2b2bd6"]},"legend":null},
"strokeDash":{"field":"s","type":"nominal","scale":{"domain":["SC","CP"],"range":[[1,0],[10,6]]},"legend":{"title":null,"orient":"none","legendX":22,"legendY":6,"labelExpr":"datum.label=='SC' ? 'Self-consistent' : 'Constant potential'"}}}},
{"data":{"name":"labels"},"transform":[{"filter":"datum.p=='f'"}],"mark":{"type":"text","font":"Liberation Serif","fontWeight":"bold","fontSize":14},
"encoding":{"x":{"field":"x","type":"quantitative","axis":null},"y":{"field":"y","type":"quantitative","axis":null},"text":{"field":"t"},"color":{"field":"m","type":"nominal","legend":null}}},
{"data":{"name":"panels"},"transform":[{"filter":"datum.p=='f'"}],"mark":{"type":"text","font":"Liberation Sans","fontWeight":"bold","fontSize":16},
"encoding":{"x":{"field":"x","type":"quantitative","axis":{"orient":"top","labels":false,"title":null,"domain":false,"values":[0,0.05,0.1,0.15,0.2,0.25,0.3,0.35,0.4,0.45,0.5,0.55,0.6,0.65,0.7,0.75,0.8,0.85,0.9,0.95,1],"tickSize":{"condition":{"test":"abs(datum.value*5-round(datum.value*5))<0.001","value":4},"value":2}}},
"y":{"field":"y","type":"quantitative","axis":{"orient":"right","labels":false,"title":null,"domain":false,"values":[0,0.5,1,1.5,2,2.5,3,3.5,4,4.5,5,5.5,6,6.5,7,7.5,8,8.5,9,9.5,10,10.5,11,11.5,12,12.5,13,13.5,14],"tickSize":{"condition":{"test":"abs(datum.value/2-round(datum.value/2))<0.001","value":4},"value":2}}},"text":{"field":"t"}}}
],
"resolve":{"axis":{"x":"independent","y":"independent"}}},
{"width":195,"height":175,"title":"x 10³¹",
"layer":[
{"data":{"name":"curves"},"transform":[{"filter":"datum.p=='g'"}],"mark":{"type":"line","strokeWidth":2.5,"interpolate":"monotone","clip":true},
"encoding":{"x":{"field":"x","type":"quantitative","scale":{"domain":[0,1],"nice":false},"axis":{"title":"Surface Potential (V)","values":[0,0.05,0.1,0.15,0.2,0.25,0.3,0.35,0.4,0.45,0.5,0.55,0.6,0.65,0.7,0.75,0.8,0.85,0.9,0.95,1],"labelExpr":"abs(datum.value*5-round(datum.value*5))<0.001 ? datum.label : ''","tickSize":{"condition":{"test":"abs(datum.value*5-round(datum.value*5))<0.001","value":4},"value":2}}},
"y":{"field":"y","type":"quantitative","scale":{"domain":[0,3],"nice":false},"axis":{"title":"Carriers·Velocity (s⁻¹m⁻²)","values":[0,0.15,0.3,0.45,0.6,0.75,0.9,1.05,1.2,1.35,1.5,1.65,1.8,1.95,2.1,2.25,2.4,2.55,2.7,2.85,3],"labelExpr":"abs(datum.value/0.6-round(datum.value/0.6))<0.001 ? datum.label : ''","tickSize":{"condition":{"test":"abs(datum.value/0.6-round(datum.value/0.6))<0.001","value":4},"value":2}}},
"color":{"field":"m","type":"nominal","scale":{"domain":["NP","P"],"range":["#d22b2b","#2b2bd6"]},"legend":null},
"strokeDash":{"field":"s","type":"nominal","scale":{"domain":["SC","CP"],"range":[[1,0],[10,6]]},"legend":{"title":null,"orient":"none","legendX":22,"legendY":6,"labelExpr":"datum.label=='SC' ? 'Self-consistent' : 'Constant potential'"}}}},
{"data":{"name":"labels"},"transform":[{"filter":"datum.p=='g'"}],"mark":{"type":"text","font":"Liberation Serif","fontWeight":"bold","fontSize":14},
"encoding":{"x":{"field":"x","type":"quantitative","axis":null},"y":{"field":"y","type":"quantitative","axis":null},"text":{"field":"t"},"color":{"field":"m","type":"nominal","legend":null}}},
{"data":{"name":"panels"},"transform":[{"filter":"datum.p=='g'"}],"mark":{"type":"text","font":"Liberation Sans","fontWeight":"bold","fontSize":16},
"encoding":{"x":{"field":"x","type":"quantitative","axis":{"orient":"top","labels":false,"title":null,"domain":false,"values":[0,0.05,0.1,0.15,0.2,0.25,0.3,0.35,0.4,0.45,0.5,0.55,0.6,0.65,0.7,0.75,0.8,0.85,0.9,0.95,1],"tickSize":{"condition":{"test":"abs(datum.value*5-round(datum.value*5))<0.001","value":4},"value":2}}},
"y":{"field":"y","type":"quantitative","axis":{"orient":"right","labels":false,"title":null,"domain":false,"values":[0,0.15,0.3,0.45,0.6,0.75,0.9,1.05,1.2,1.35,1.5,1.65,1.8,1.95,2.1,2.25,2.4,2.55,2.7,2.85,3],"tickSize":{"condition":{"test":"abs(datum.value/0.6-round(datum.value/0.6))<0.001","value":4},"value":2}}},"text":{"field":"t"}}}
],
"resolve":{"axis":{"x":"independent","y":"independent"}}},
{"width":187,"height":175,
"layer":[
{"data":{"name":"curves"},"transform":[{"filter":"datum.p=='h'"}],"mark":{"type":"line","strokeWidth":2.5,"interpolate":"monotone","clip":true},
"encoding":{"x":{"field":"x","type":"quantitative","scale":{"domain":[0,1],"nice":false},"axis":{"title":"Gate-Source Voltage (V)","values":[0,0.05,0.1,0.15,0.2,0.25,0.3,0.35,0.4,0.45,0.5,0.55,0.6,0.65,0.7,0.75,0.8,0.85,0.9,0.95,1],"labelExpr":"abs(datum.value*5-round(datum.value*5))<0.001 ? datum.label : ''","tickSize":{"condition":{"test":"abs(datum.value*5-round(datum.value*5))<0.001","value":4},"value":2}}},
"y":{"field":"y","type":"quantitative","scale":{"domain":[0,2.5],"nice":false},"axis":{"title":"Quantum Capacitance (aF/nm)","values":[0,0.1,0.2,0.3,0.4,0.5,0.6,0.7,0.8,0.9,1,1.1,1.2,1.3,1.4,1.5,1.6,1.7,1.8,1.9,2,2.1,2.2,2.3,2.4,2.5],"labelExpr":"abs(datum.value*2-round(datum.value*2))<0.001 ? datum.label : ''","tickSize":{"condition":{"test":"abs(datum.value*2-round(datum.value*2))<0.001","value":4},"value":2}}},
"color":{"field":"m","type":"nominal","scale":{"domain":["NP","P"],"range":["#d22b2b","#2b2bd6"]},"legend":null},
"strokeDash":{"field":"s","type":"nominal","scale":{"domain":["SC","CP"],"range":[[1,0],[10,6]]},"legend":{"title":null,"orient":"none","legendX":22,"legendY":6,"labelExpr":"datum.label=='SC' ? 'Self-consistent' : 'Constant potential'"}}}},
{"data":{"name":"labels"},"transform":[{"filter":"datum.p=='h'"}],"mark":{"type":"text","font":"Liberation Serif","fontWeight":"bold","fontSize":14},
"encoding":{"x":{"field":"x","type":"quantitative","axis":null},"y":{"field":"y","type":"quantitative","axis":null},"text":{"field":"t"},"color":{"field":"m","type":"nominal","legend":null}}},
{"data":{"name":"panels"},"transform":[{"filter":"datum.p=='h'"}],"mark":{"type":"text","font":"Liberation Sans","fontWeight":"bold","fontSize":16},
"encoding":{"x":{"field":"x","type":"quantitative","axis":{"orient":"top","labels":false,"title":null,"domain":false,"values":[0,0.05,0.1,0.15,0.2,0.25,0.3,0.35,0.4,0.45,0.5,0.55,0.6,0.65,0.7,0.75,0.8,0.85,0.9,0.95,1],"tickSize":{"condition":{"test":"abs(datum.value*5-round(datum.value*5))<0.001","value":4},"value":2}}},
"y":{"field":"y","type":"quantitative","axis":{"orient":"right","labels":false,"title":null,"domain":false,"values":[0,0.1,0.2,0.3,0.4,0.5,0.6,0.7,0.8,0.9,1,1.1,1.2,1.3,1.4,1.5,1.6,1.7,1.8,1.9,2,2.1,2.2,2.3,2.4,2.5],"tickSize":{"condition":{"test":"abs(datum.value*2-round(datum.value*2))<0.001","value":4},"value":2}}},"text":{"field":"t"}}}
],
"resolve":{"axis":{"x":"independent","y":"independent"}}}
],"spacing":59,"bounds":"flush","resolve":{"scale":{"strokeDash":"independent"},"legend":{"strokeDash":"independent"}}}
],
"spacing":25,
"resolve":{"scale":{"strokeDash":"independent"},"legend":{"strokeDash":"independent"}},
"config":{
"view":{"stroke":"black","strokeWidth":1},
"axis":{"grid":false,"domainColor":"black","tickColor":"black","labelColor":"black","titleColor":"black","labelFont":"Liberation Sans","labelFontSize":13,"titleFont":"Liberation Serif","titleFontSize":17,"titleFontWeight":"normal","format":"~g","labelFlush":false,"labelOverlap":false,"tickWidth":1},
"axisX":{"labelPadding":7,"titlePadding":-2},
"axisY":{"labelPadding":3,"titlePadding":3},
"title":{"font":"Liberation Sans","fontSize":13,"fontWeight":"normal","anchor":"start","frame":"group","offset":-3,"color":"black"},
"legend":{"symbolType":"M-3,0H3","symbolSize":81,"symbolStrokeWidth":2.5,"symbolStrokeColor":"black","labelFont":"Liberation Serif","labelFontSize":11,"labelColor":"black","labelOffset":11,"rowPadding":3,"padding":0}
}
}
